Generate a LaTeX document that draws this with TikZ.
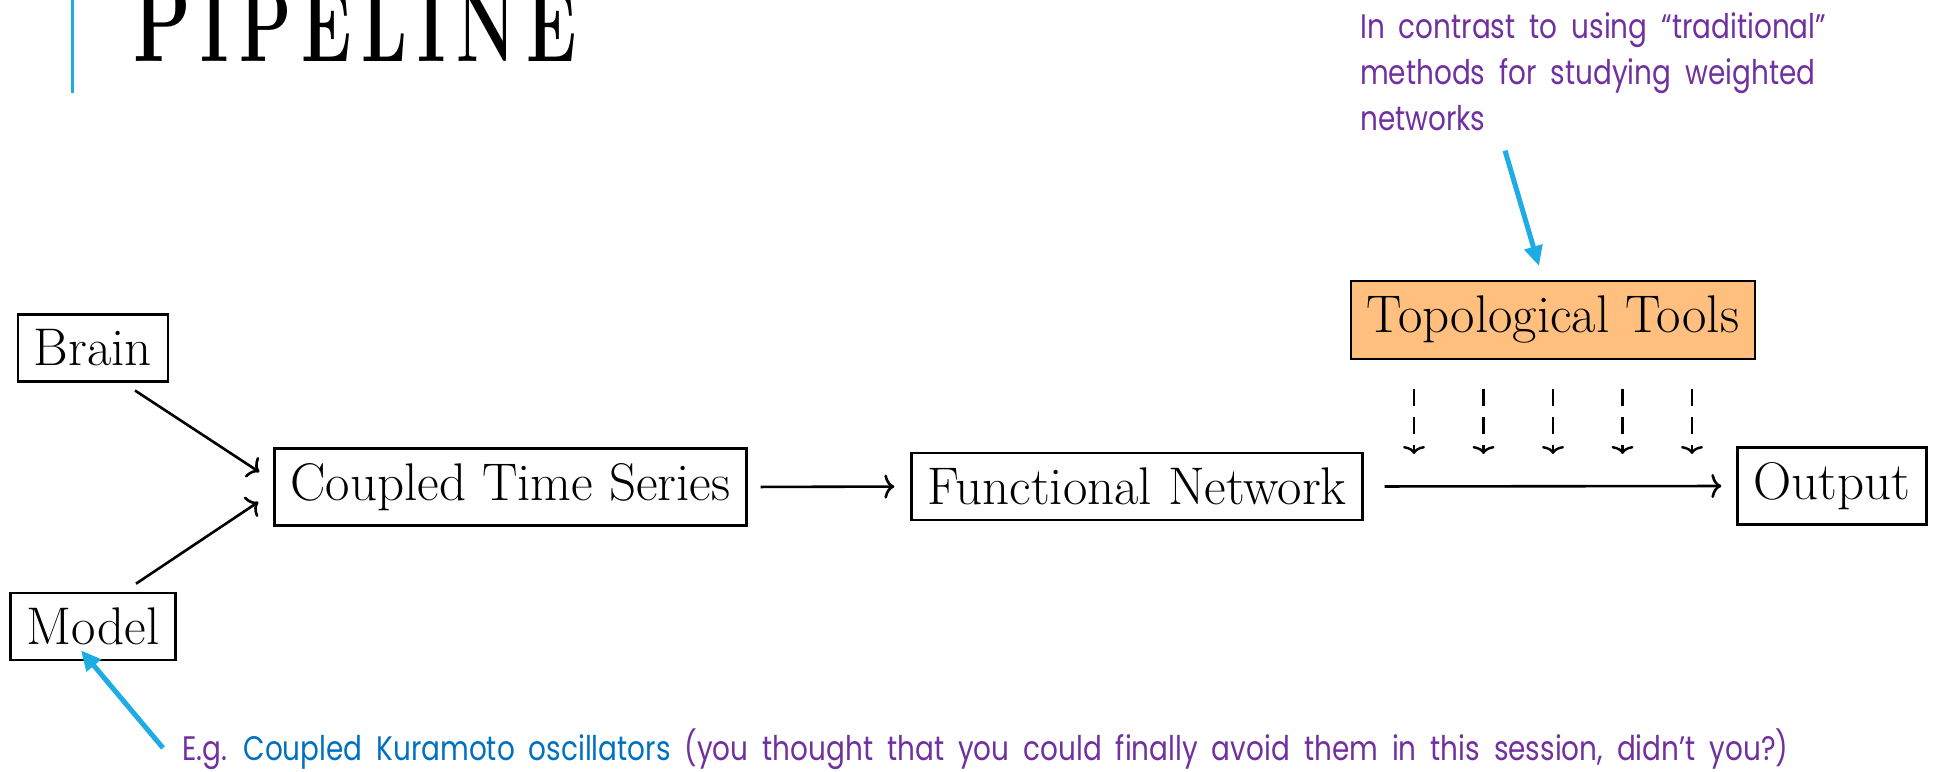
\documentclass[tikz,border=0pt]{standalone}
\usepackage{fontspec}
\usepackage{tikz}
\usetikzlibrary{arrows.meta, positioning, calc}
\newfontfamily\notefont[FakeStretch=0.82]{Poppins}
\newcommand\notespacing{\spaceskip=14pt plus 2pt minus 2pt\relax}
\definecolor{notepurple}{RGB}{112,48,160}
\definecolor{noteblue}{RGB}{0,112,192}
\definecolor{calloutblue}{RGB}{29,172,227}
\definecolor{toolfill}{RGB}{255,191,127}
\tikzset{
  stage/.style={draw, line width=2.4pt, inner xsep=16pt, inner ysep=15pt, font=\fontsize{53}{62}\selectfont},
  flow/.style={line width=2.6pt, -{To[length=10pt,width=24pt]}},
  toolflow/.style={line width=2.4pt, dash pattern=on 17pt off 11pt, -{To[length=8pt,width=22pt]}},
  callout/.style={draw=calloutblue, line width=5pt, -{Triangle[length=20pt,width=18pt]}},
  note/.style={font=\notefont\fontsize{34}{46}\selectfont\notespacing, text=notepurple, inner sep=0pt}
}

\begin{document}
\begin{tikzpicture}[x=1pt, y=1pt]
    \useasboundingbox (0,0) rectangle (1937,771);
    % title
    \draw[calloutblue, line width=3pt] (72,771) -- (72,678);
    \node[anchor=base west, inner sep=0pt] (title) at (133,709) {\scalebox{1}[1.5]{\bfseries\fontsize{75}{75}\selectfont P\kern10pt\fontsize{68}{68}\selectfont I\kern10pt P\kern10pt E\kern10pt L\kern10pt I\kern10pt N\kern10pt E}};
    % pipeline stages
    \node[stage] (brain) at (93,423) {Brain};
    \node[stage] (model) at (93,144.5) {Model};
    \node[stage] (cts) at (510.5,284) {Coupled Time Series};
    \node[stage] (fn) at (1137,284.5) {Functional Network};
    \node[stage] (out) at (1832,285) {Output};
    \node[stage, fill=toolfill] (tt) at (1553,451) {Topological Tools};
    \draw[flow] ([xshift=42pt,yshift=-8pt]brain.south) -- ([xshift=-14pt,yshift=15pt]cts.west);
    \draw[flow] ([xshift=43pt,yshift=8pt]model.north) -- ([xshift=-15pt,yshift=-15pt]cts.west);
    \draw[flow, shorten <=13pt, shorten >=16pt] (cts.east) -- (fn.west);
    \draw[flow, shorten <=21pt, shorten >=15pt] (fn.east) -- (out.west);
    \foreach \i in {-2,...,2} {
        \draw[toolflow] ([xshift={\i*69.5pt}, yshift=-29pt]tt.south) -- ++(0,-65);
    }
    % notes
    \node[note, anchor=north west, align=left] (contrast) at (1360,759) {In contrast to using “traditional”\\ methods for studying weighted\\ networks};
    \node[note, anchor=base west] (kuramoto) at (182,11) {E.g. \textcolor{noteblue}{Coupled Kuramoto oscillators} (you thought that you could finally avoid them in this session, didn’t you?)};
    \draw[callout] ([xshift=145pt, yshift=-20pt]contrast.south west) -- ([xshift=-14pt, yshift=14pt]tt.north);
    \draw[callout] ([xshift=-19pt, yshift=12pt]kuramoto.base west) -- ([xshift=-12pt, yshift=11pt]model.south);
\end{tikzpicture}
\end{document}
